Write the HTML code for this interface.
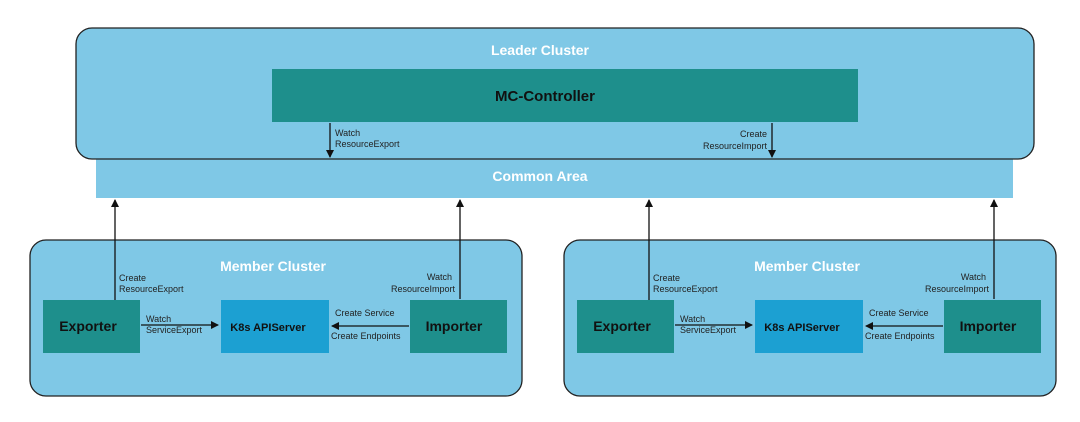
<!DOCTYPE html>
<html><head><style>
body{margin:0;width:1080px;height:417px;background:#fff;overflow:hidden;font-family:"Liberation Sans",sans-serif}
</style></head><body>
<svg width="1080" height="417" xmlns="http://www.w3.org/2000/svg" font-family="Liberation Sans, sans-serif">
<defs><marker id="a" markerWidth="8" markerHeight="8" refX="7" refY="4" orient="auto" markerUnits="userSpaceOnUse"><path d="M0,0 L8,4 L0,8 z" fill="#111"/></marker></defs>
<rect x="96" y="158" width="917" height="40" fill="#7fc8e6"/>
<rect x="76" y="28" width="958" height="131" rx="16" fill="#7fc8e6" stroke="#222" stroke-width="1.3"/>
<text x="540" y="55" text-anchor="middle" fill="#fff" font-weight="bold" font-size="14">Leader Cluster</text>
<rect x="272" y="69" width="586" height="53" fill="#1e8f8c"/>
<text x="545" y="101" text-anchor="middle" fill="#111" font-weight="bold" font-size="15">MC-Controller</text>
<text x="540" y="181" text-anchor="middle" fill="#fff" font-weight="bold" font-size="14">Common Area</text>
<line x1="330" y1="123" x2="330" y2="157" stroke="#111" stroke-width="1.3" marker-end="url(#a)"/>
<text x="335" y="136" font-size="9" fill="#222">Watch</text><text x="335" y="147" font-size="9" fill="#222">ResourceExport</text>
<line x1="772" y1="123" x2="772" y2="157" stroke="#111" stroke-width="1.3" marker-end="url(#a)"/>
<text x="767" y="137" font-size="9" fill="#222" text-anchor="end">Create</text><text x="767" y="149" font-size="9" fill="#222" text-anchor="end">ResourceImport</text>
<g id="m">
<rect x="30" y="240" width="492" height="156" rx="16" fill="#7fc8e6" stroke="#222" stroke-width="1.3"/>
<text x="273" y="271" text-anchor="middle" fill="#fff" font-weight="bold" font-size="14">Member Cluster</text>
<rect x="43" y="300" width="97" height="53" fill="#1e8f8c"/>
<text x="88" y="331" text-anchor="middle" fill="#111" font-weight="bold" font-size="14">Exporter</text>
<rect x="221" y="300" width="108" height="53" fill="#1ca0d2"/>
<text x="268" y="331" text-anchor="middle" fill="#111" font-weight="bold" font-size="11">K8s APIServer</text>
<rect x="410" y="300" width="97" height="53" fill="#1e8f8c"/>
<text x="454" y="331" text-anchor="middle" fill="#111" font-weight="bold" font-size="14">Importer</text>
<line x1="115" y1="300" x2="115" y2="200" stroke="#111" stroke-width="1.3" marker-end="url(#a)"/>
<text x="119" y="281" font-size="9" fill="#222">Create</text><text x="119" y="292" font-size="9" fill="#222">ResourceExport</text>
<line x1="460" y1="299" x2="460" y2="200" stroke="#111" stroke-width="1.3" marker-end="url(#a)"/>
<text x="452" y="280" font-size="9" fill="#222" text-anchor="end">Watch</text><text x="455" y="292" font-size="9" fill="#222" text-anchor="end">ResourceImport</text>
<line x1="141" y1="325" x2="218" y2="325" stroke="#111" stroke-width="1.3" marker-end="url(#a)"/>
<text x="146" y="322" font-size="9" fill="#222">Watch</text><text x="146" y="333" font-size="9" fill="#222">ServiceExport</text>
<line x1="409" y1="326" x2="332" y2="326" stroke="#111" stroke-width="1.3" marker-end="url(#a)"/>
<text x="335" y="316" font-size="9" fill="#222">Create Service</text><text x="331" y="339" font-size="9" fill="#222">Create Endpoints</text>
</g>
<use href="#m" x="534"/>
</svg>
</body></html>
